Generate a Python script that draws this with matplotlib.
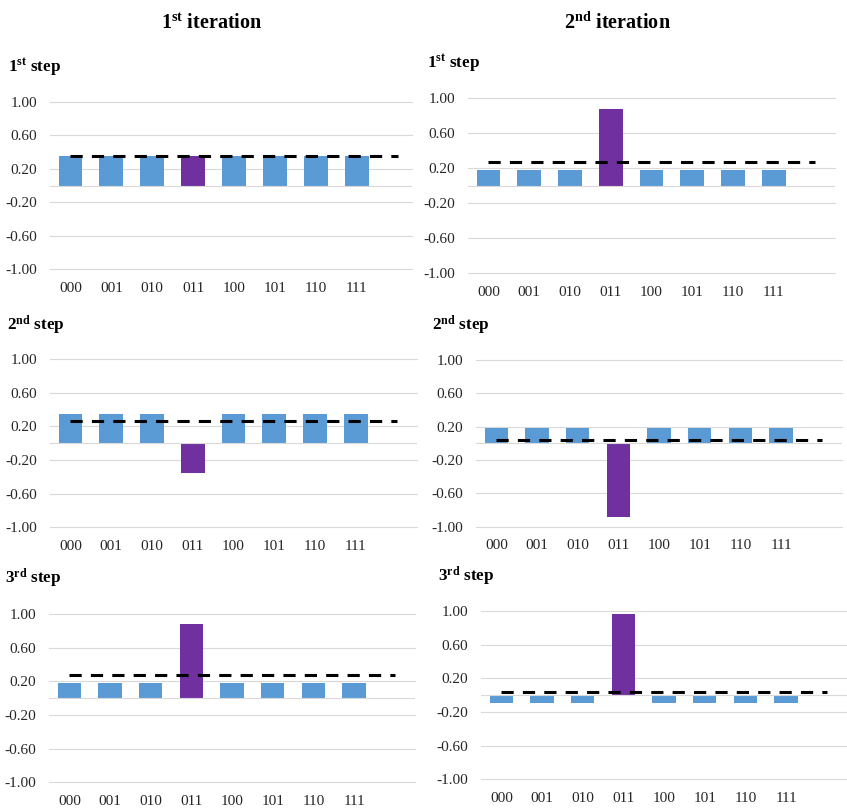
import matplotlib
matplotlib.use("Agg")
import matplotlib.pyplot as plt

plt.rcParams['font.family'] = ['Liberation Serif', 'DejaVu Serif']
plt.rcParams['mathtext.fontset'] = 'custom'
plt.rcParams['mathtext.rm'] = 'Liberation Serif'
plt.rcParams['mathtext.bf'] = 'Liberation Serif:bold'
plt.rcParams['mathtext.it'] = 'Liberation Serif:italic'

categories = ['000', '001', '010', '011', '100', '101', '110', '111']
marked = '011'

# iteration 1
it1_step1 = [0.35, 0.35, 0.35, 0.35, 0.35, 0.35, 0.35, 0.35]
it1_step2 = [0.35, 0.35, 0.35, -0.35, 0.35, 0.35, 0.35, 0.35]
it1_step3 = [0.18, 0.18, 0.18, 0.88, 0.18, 0.18, 0.18, 0.18]
# iteration 2
it2_step1 = [0.18, 0.18, 0.18, 0.88, 0.18, 0.18, 0.18, 0.18]
it2_step2 = [0.18, 0.18, 0.18, -0.88, 0.18, 0.18, 0.18, 0.18]
it2_step3 = [-0.09, -0.09, -0.09, 0.97, -0.09, -0.09, -0.09, -0.09]

# mean amplitude (dashed line)
it1_means = [0.35, 0.27, 0.27]
it2_means = [0.27, 0.04, 0.04]

y_ticks = [-1.0, -0.6, -0.2, 0.2, 0.6, 1.0]
step_labels = [r'$\mathbf{1^{st}}$ step', r'$\mathbf{2^{nd}}$ step', r'$\mathbf{3^{rd}}$ step']
col_titles = [r'$\mathbf{1^{st}}$ iteration', r'$\mathbf{2^{nd}}$ iteration']

W, H = 847, 811
fig = plt.figure(figsize=(W / 100, H / 100), dpi=100)
fig.patch.set_facecolor('white')

BLUE = '#5B9BD5'
PURPLE = '#7030A0'
GRID = '#D9D9D9'
TXT = '#262626'

# panel geometry in pixels: left, right, top(1.00), bottom(-1.00), xmax
panels = [
    [(50, 412, 102, 269.3, 8.35), (50, 417, 359.3, 527.3, 8.5), (49, 415, 614, 782.3, 8.5)],
    [(468, 835, 98.3, 273.3, 8.5), (476, 842, 360, 526.7, 8.5), (481, 847, 611, 779.3, 8.5)],
]
step_label_pos = [
    [(8, 72), (7, 330), (5, 583)],
    [(427, 68), (432, 330), (438, 581)],
]
title_pos = [(212, 29), (617, 29)]

data = [[it1_step1, it1_step2, it1_step3], [it2_step1, it2_step2, it2_step3]]
means = [it1_means, it2_means]

for c in range(2):
    fig.text(title_pos[c][0] / W, 1 - title_pos[c][1] / H, col_titles[c],
             ha='center', va='baseline', fontsize=14.5, fontweight='bold', color='black')
    for r in range(3):
        l, rr, t, b, xmax = panels[c][r]
        ax = fig.add_axes([l / W, 1 - b / H, (rr - l) / W, (b - t) / H])
        vals = data[c][r]
        xs = list(range(len(categories)))
        colors = [PURPLE if cat == marked else BLUE for cat in categories]
        ax.bar(xs, vals, width=0.58, color=colors, zorder=2)
        ax.hlines(means[c][r], 0, len(categories), colors='black', linestyles=(0, (4, 3)),
                  linewidth=2.2, zorder=3)
        ax.set_xlim(-0.5, xmax)
        ax.set_ylim(-1.0, 1.0)
        ax.set_yticks(y_ticks)
        ax.set_yticklabels([f'{v:.2f}' for v in y_ticks])
        for v in y_ticks:
            ax.axhline(v, color=GRID, linewidth=0.8, zorder=1, clip_on=False)
        ax.axhline(0, color=GRID, linewidth=0.8, zorder=4)
        ax.set_xticks(xs)
        ax.set_xticklabels(categories)
        for s in ax.spines.values():
            s.set_visible(False)
        ax.tick_params(axis='both', length=0, labelsize=11, labelcolor=TXT)
        ax.tick_params(axis='y', pad=9.5)
        ax.tick_params(axis='x', pad=9)
        ax.set_facecolor('none')
        fig.text(step_label_pos[c][r][0] / W, 1 - step_label_pos[c][r][1] / H, step_labels[r],
                 ha='left', va='baseline', fontsize=12.3, fontweight='bold', color='black')

fig.savefig('out.png', dpi=100, facecolor='white')
